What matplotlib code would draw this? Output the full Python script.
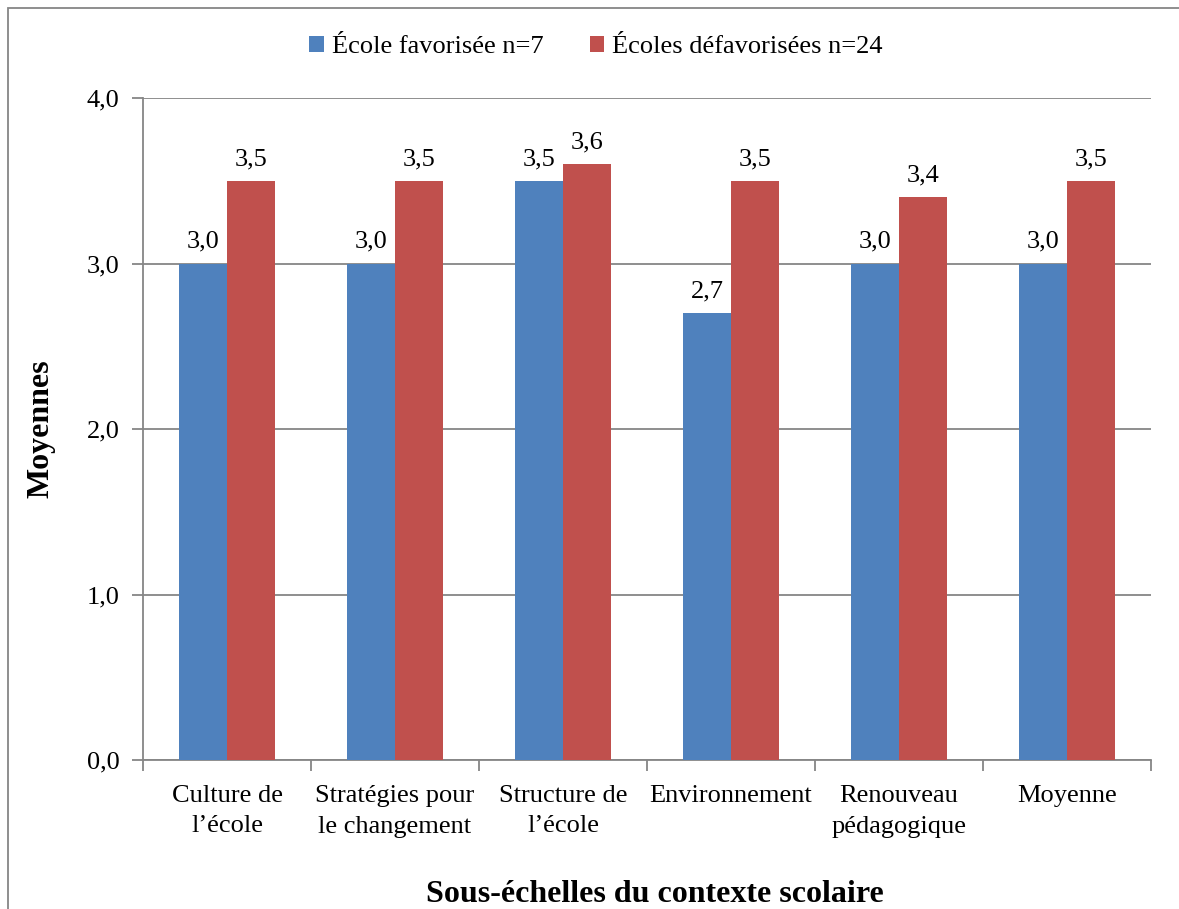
import numpy as np
import matplotlib.pyplot as plt
from matplotlib.patches import Rectangle

plt.rcParams['font.family'] = ['Liberation Serif', 'DejaVu Serif']

categories = ["Culture de\nl\u2019école", "Stratégies pour\nle changement", "Structure de\nl\u2019école",
              "Environnement", "Renouveau\npédagogique", "Moyenne"]
favorisee = [3.0, 3.0, 3.5, 2.7, 3.0, 3.0]
defavorisees = [3.5, 3.5, 3.6, 3.5, 3.4, 3.5]
series_labels = ["École favorisée n=7", "Écoles défavorisées n=24"]

blue = '#4F81BD'
red = '#C0504D'
grid_col = '#868686'

fig = plt.figure(figsize=(11.79, 9.09), dpi=100)
ax = fig.add_axes([143 / 1179, 1 - 760 / 909, (1151 - 143) / 1179, (760 - 98) / 909])

x = np.arange(len(categories))
w = 48 / 168
b1 = ax.bar(x - w / 2, favorisee, w, color=blue, label=series_labels[0], zorder=3)
b2 = ax.bar(x + w / 2, defavorisees, w, color=red, label=series_labels[1], zorder=3)

fmt = lambda v: f"{v:.1f}".replace('.', ',')
for bars, vals in ((b1, favorisee), (b2, defavorisees)):
    for r, v in zip(bars, vals):
        ax.text(r.get_x() + r.get_width() / 2, v + 0.065, fmt(v), ha='center', va='bottom', fontsize=19)

ax.set_xlim(-0.5, len(categories) - 0.5)
ax.set_ylim(0, 4)
ax.set_yticks(np.arange(0, 4.01, 1.0))
ax.set_yticklabels([fmt(v) for v in np.arange(0, 4.01, 1.0)], fontsize=19)
ax.yaxis.grid(True, color=grid_col, linewidth=1.3, zorder=0)
ax.set_axisbelow(True)

# category labels centred, ticks on the category boundaries
ax.set_xticks(x)
ax.set_xticklabels(categories, fontsize=19, linespacing=1.5)
ax.tick_params(axis='x', length=0, pad=18)
ax.set_xticks(np.arange(-0.5, len(categories)), minor=True)
ax.tick_params(axis='x', which='minor', length=8, width=1.3, color=grid_col)
ax.tick_params(axis='y', length=8, width=1.3, color=grid_col, pad=9)

for s in ('top', 'right'):
    ax.spines[s].set_visible(False)
for s in ('left', 'bottom'):
    ax.spines[s].set_color(grid_col)
    ax.spines[s].set_linewidth(1.3)

ax.set_ylabel("Moyennes", fontsize=23, fontweight='bold', labelpad=22)
fig.text(655 / 1179, 1 - 894 / 909, "Sous-échelles du contexte scolaire", ha='center', va='center',
         fontsize=23, fontweight='bold')

fig.legend(loc='center', bbox_to_anchor=(596 / 1179, 1 - 47 / 909), ncol=2, frameon=False,
           fontsize=19, handlelength=0.55, handleheight=0.55, handletextpad=0.3, columnspacing=1.75)

# chart frame
fig.patches.append(Rectangle((8 / 1179, -0.1), 1.2, 1 - 8 / 909 + 0.1, transform=fig.transFigure,
                             fill=False, edgecolor=grid_col, linewidth=1.3))

fig.savefig('out.png', dpi=100)
